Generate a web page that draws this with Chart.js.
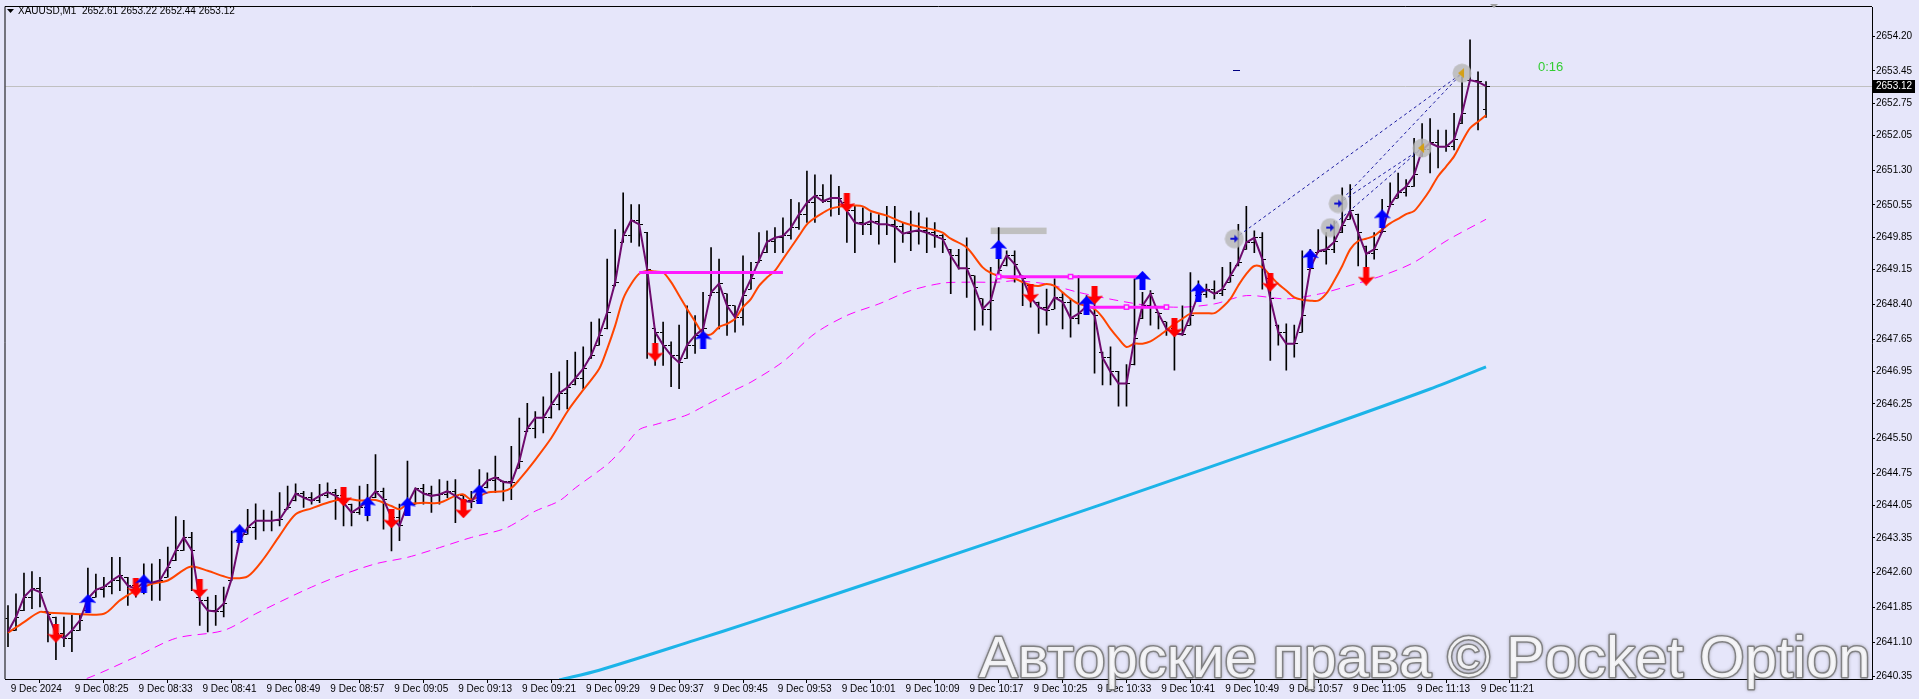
<!DOCTYPE html>
<html>
<head>
<meta charset="utf-8">
<title>XAUUSD,M1</title>
<script src="https://cdn.jsdelivr.net/npm/chart.js@4.4.1/dist/chart.umd.min.js"></script>
<style>
  html, body { margin: 0; padding: 0; background: #e6e6fa; overflow: hidden; }
  #wrap { width: 1919px; height: 699px; position: relative; }
</style>
</head>
<body>
<div id="wrap"><canvas id="priceChart"></canvas></div>
<script>
/* ============================================
   XAUUSD M1 - bars, medias e marcações
   ============================================ */

// Rótulos de tempo (um a cada 8 barras)
const timeTickIdx = [0, 8, 16, 24, 32, 40, 48, 56, 64, 72, 80, 88, 96, 104, 112, 120, 128, 136, 144, 152, 160, 168, 176, 184];
const timeLabels = ['9 Dec 2024', '9 Dec 08:25', '9 Dec 08:33', '9 Dec 08:41', '9 Dec 08:49', '9 Dec 08:57',
    '9 Dec 09:05', '9 Dec 09:13', '9 Dec 09:21', '9 Dec 09:29', '9 Dec 09:37', '9 Dec 09:45', '9 Dec 09:53',
    '9 Dec 10:01', '9 Dec 10:09', '9 Dec 10:17', '9 Dec 10:25', '9 Dec 10:33', '9 Dec 10:41', '9 Dec 10:49',
    '9 Dec 10:57', '9 Dec 11:05', '9 Dec 11:13', '9 Dec 11:21'];

// Escala de preço (como no terminal)
const yTicks = [2654.20, 2653.45, 2652.75, 2652.05, 2651.30, 2650.55, 2649.85, 2649.15, 2648.40, 2647.65,
    2646.95, 2646.25, 2645.50, 2644.75, 2644.05, 2643.35, 2642.60, 2641.85, 2641.10, 2640.35];
const yMin = 2640.30;
const yMax = 2654.83;

// OHLC
const opens = [
    2641.60, 2641.35, 2641.78, 2642.07, 2642.25, 2641.75, 2641.64, 2641.28, 2641.18, 2641.35,
    2641.78, 2642.07, 2642.23, 2642.29, 2642.43, 2642.50, 2642.32, 2642.25, 2642.39, 2642.38,
    2642.50, 2642.86, 2643.08, 2643.36, 2642.07, 2642.00, 2641.78, 2641.76, 2642.43, 2643.29,
    2643.43, 2643.58, 2643.72, 2643.72, 2643.72, 2643.97, 2644.15, 2644.31, 2644.22, 2644.15,
    2644.26, 2644.34, 2644.26, 2644.08, 2643.90, 2644.01, 2644.22, 2644.36, 2643.93, 2643.79,
    2643.86, 2644.08, 2644.42, 2644.31, 2644.26, 2644.29, 2644.36, 2644.26, 2644.15, 2644.15,
    2644.43, 2644.59, 2644.58, 2644.56, 2644.86, 2645.65, 2645.72, 2645.95, 2645.95, 2646.23,
    2646.48, 2646.66, 2646.80, 2647.23, 2647.52, 2647.87, 2648.80, 2649.74, 2649.88, 2650.22,
    2649.96, 2647.87, 2647.80, 2647.52, 2647.30, 2647.23, 2647.52, 2647.73, 2648.59, 2648.66,
    2648.63, 2648.37, 2648.12, 2648.73, 2649.31, 2649.52, 2649.75, 2649.84, 2649.88, 2650.06,
    2650.35, 2650.60, 2650.75, 2650.63, 2650.70, 2650.60, 2650.42, 2650.17, 2650.13, 2650.20,
    2650.13, 2650.13, 2650.08, 2649.93, 2649.97, 2650.00, 2649.95, 2649.88, 2649.59, 2649.45,
    2649.18, 2649.02, 2648.52, 2648.30, 2649.02, 2649.23, 2649.46, 2649.02, 2648.80, 2648.45,
    2648.34, 2648.30, 2648.55, 2648.45, 2648.10, 2648.30, 2648.36, 2647.37, 2647.25, 2646.94,
    2646.69, 2647.09, 2648.09, 2648.37, 2648.23, 2648.02, 2647.87, 2647.77, 2647.95, 2648.59,
    2648.62, 2648.73, 2648.63, 2648.88, 2649.23, 2649.59, 2649.74, 2649.84, 2648.95, 2647.95,
    2647.80, 2647.55, 2647.80, 2649.16, 2649.52, 2649.55, 2649.59, 2649.95, 2650.24, 2650.35,
    2649.66, 2649.49, 2649.95, 2650.52, 2650.70, 2650.81, 2650.95, 2651.60, 2651.74, 2651.89,
    2651.81, 2651.81, 2652.31, 2653.25, 2653.25, 2652.61
];
const highs = [
    2641.89, 2642.14, 2642.59, 2642.62, 2642.50, 2641.75, 2641.64, 2641.64, 2641.68, 2641.68,
    2642.70, 2642.57, 2642.50, 2642.93, 2642.93, 2642.50, 2642.43, 2642.79, 2642.79, 2642.89,
    2643.15, 2643.81, 2643.73, 2643.47, 2642.07, 2642.07, 2642.11, 2642.29, 2643.50, 2643.61,
    2643.97, 2644.09, 2643.95, 2643.93, 2644.33, 2644.47, 2644.52, 2644.36, 2644.33, 2644.51,
    2644.54, 2644.40, 2644.33, 2644.08, 2644.47, 2644.51, 2645.15, 2644.43, 2643.93, 2644.08,
    2645.01, 2644.43, 2644.51, 2644.47, 2644.61, 2644.58, 2644.61, 2644.26, 2644.36, 2644.83,
    2644.76, 2645.12, 2644.58, 2645.33, 2645.94, 2646.26, 2646.08, 2646.40, 2646.91, 2646.94,
    2647.19, 2647.37, 2647.48, 2648.02, 2648.09, 2649.38, 2650.02, 2650.81, 2650.56, 2650.56,
    2649.96, 2647.87, 2648.02, 2647.59, 2647.95, 2648.37, 2648.16, 2648.66, 2649.63, 2649.38,
    2648.63, 2648.37, 2649.45, 2649.31, 2649.95, 2649.99, 2650.06, 2650.27, 2650.67, 2650.60,
    2651.28, 2651.20, 2650.99, 2651.20, 2650.95, 2650.60, 2650.52, 2650.49, 2650.38, 2650.34,
    2650.52, 2650.52, 2650.17, 2650.42, 2650.38, 2650.27, 2650.17, 2649.91, 2649.59, 2649.59,
    2649.84, 2649.02, 2648.52, 2649.20, 2650.06, 2649.56, 2649.56, 2649.02, 2648.80, 2648.45,
    2648.73, 2648.95, 2648.66, 2648.52, 2649.02, 2648.59, 2648.52, 2647.37, 2647.48, 2646.95,
    2647.10, 2648.95, 2648.66, 2648.70, 2648.23, 2648.02, 2647.87, 2648.37, 2649.09, 2648.91,
    2648.84, 2648.91, 2649.20, 2649.31, 2650.13, 2650.52, 2649.99, 2649.95, 2648.95, 2647.95,
    2647.98, 2647.95, 2649.56, 2649.59, 2650.02, 2649.95, 2650.20, 2650.92, 2650.99, 2650.35,
    2649.66, 2649.95, 2650.67, 2651.03, 2651.24, 2651.10, 2651.99, 2652.31, 2652.42, 2652.17,
    2652.17, 2652.53, 2653.32, 2654.12, 2653.43, 2653.22
];
const lows = [
    2641.00, 2641.35, 2641.78, 2641.82, 2641.86, 2641.10, 2640.72, 2641.00, 2640.89, 2641.35,
    2641.78, 2642.07, 2642.07, 2642.14, 2642.21, 2641.89, 2642.07, 2642.14, 2642.00, 2642.00,
    2642.50, 2642.86, 2643.08, 2642.21, 2641.46, 2641.32, 2641.46, 2641.64, 2642.43, 2643.29,
    2643.43, 2643.32, 2643.50, 2643.50, 2643.61, 2643.97, 2644.15, 2644.01, 2644.08, 2644.11,
    2644.22, 2643.75, 2643.61, 2643.61, 2643.86, 2643.72, 2644.22, 2643.54, 2643.07, 2643.29,
    2643.86, 2644.08, 2644.08, 2643.90, 2644.08, 2644.22, 2643.68, 2643.93, 2644.00, 2644.15,
    2644.43, 2644.33, 2644.15, 2644.18, 2644.86, 2645.65, 2645.51, 2645.62, 2645.94, 2646.12,
    2646.14, 2646.66, 2646.58, 2647.23, 2647.52, 2647.87, 2648.80, 2649.74, 2649.74, 2649.66,
    2647.23, 2647.08, 2647.08, 2646.62, 2646.58, 2647.23, 2647.34, 2647.66, 2648.59, 2647.87,
    2647.73, 2647.80, 2647.95, 2648.73, 2649.31, 2649.52, 2649.52, 2649.52, 2649.81, 2650.02,
    2650.17, 2650.17, 2650.60, 2650.31, 2650.34, 2649.74, 2649.52, 2649.91, 2649.91, 2649.70,
    2649.91, 2649.31, 2649.74, 2649.56, 2649.70, 2649.52, 2649.63, 2649.52, 2648.63, 2649.16,
    2648.55, 2647.84, 2647.95, 2647.84, 2649.02, 2649.23, 2648.88, 2648.37, 2648.34, 2647.77,
    2647.95, 2648.30, 2647.87, 2647.69, 2647.98, 2648.30, 2646.91, 2646.66, 2646.66, 2646.20,
    2646.20, 2647.09, 2648.09, 2647.95, 2647.87, 2647.73, 2646.98, 2647.73, 2647.95, 2648.59,
    2648.55, 2648.52, 2648.59, 2648.88, 2649.23, 2649.59, 2649.52, 2648.73, 2647.19, 2647.52,
    2646.98, 2647.26, 2647.80, 2649.16, 2649.52, 2649.27, 2649.52, 2649.95, 2650.24, 2649.23,
    2648.91, 2649.38, 2649.95, 2650.52, 2650.70, 2650.74, 2650.95, 2651.60, 2651.24, 2651.35,
    2651.71, 2651.74, 2652.31, 2653.25, 2652.17, 2652.44
];
const closes = [
    2641.32, 2641.64, 2642.07, 2642.25, 2642.18, 2641.70, 2641.28, 2641.18, 2641.35, 2641.57,
    2642.04, 2642.23, 2642.29, 2642.43, 2642.54, 2642.32, 2642.25, 2642.39, 2642.38, 2642.43,
    2642.72, 2643.08, 2643.36, 2643.08, 2642.00, 2641.78, 2641.76, 2641.93, 2642.47, 2643.30,
    2643.58, 2643.72, 2643.72, 2643.72, 2643.75, 2644.01, 2644.31, 2644.22, 2644.15, 2644.26,
    2644.34, 2644.26, 2644.11, 2643.90, 2644.01, 2644.15, 2644.36, 2644.18, 2643.79, 2643.61,
    2644.08, 2644.42, 2644.31, 2644.26, 2644.29, 2644.36, 2644.26, 2644.15, 2644.13, 2644.40,
    2644.59, 2644.66, 2644.56, 2644.54, 2645.01, 2645.72, 2645.95, 2645.95, 2646.23, 2646.48,
    2646.60, 2646.80, 2647.01, 2647.30, 2647.73, 2648.23, 2648.88, 2649.88, 2650.22, 2650.13,
    2649.16, 2647.80, 2647.52, 2647.30, 2647.14, 2647.52, 2647.73, 2647.87, 2648.66, 2648.85,
    2648.37, 2648.12, 2648.59, 2648.95, 2649.35, 2649.75, 2649.84, 2649.88, 2650.06, 2650.35,
    2650.60, 2650.75, 2650.63, 2650.70, 2650.70, 2650.42, 2650.17, 2650.13, 2650.20, 2650.13,
    2650.13, 2650.08, 2649.93, 2649.97, 2650.00, 2649.95, 2649.88, 2649.81, 2649.45, 2649.18,
    2649.18, 2648.77, 2648.30, 2648.48, 2649.13, 2649.46, 2649.27, 2648.95, 2648.55, 2648.34,
    2648.27, 2648.55, 2648.45, 2648.10, 2648.20, 2648.36, 2648.16, 2647.25, 2646.94, 2646.69,
    2646.69, 2647.66, 2648.37, 2648.63, 2648.20, 2647.87, 2647.77, 2647.75, 2648.16, 2648.62,
    2648.73, 2648.63, 2648.73, 2649.02, 2649.31, 2649.74, 2649.84, 2649.38, 2648.52, 2647.80,
    2647.55, 2647.55, 2648.16, 2649.18, 2649.55, 2649.59, 2649.75, 2650.11, 2650.42, 2649.95,
    2649.49, 2649.59, 2649.98, 2650.55, 2650.81, 2650.95, 2651.20, 2651.74, 2651.89, 2651.81,
    2651.81, 2651.96, 2652.53, 2653.25, 2653.21, 2653.12
];

// Média rápida (laranja)
const orangeIdx = [0, 2, 4, 5, 8, 12, 14, 16, 18, 20, 22, 23, 25, 27, 28, 30, 32, 34, 36, 38, 40, 42, 44, 46,
    48, 49, 50, 52, 54, 56, 57, 58, 60, 62, 63, 64, 66, 68, 70, 72, 74, 75, 76, 77, 78, 79, 80, 81, 82, 83,
    84, 85, 86, 87, 88, 89, 90, 91, 92, 93, 94, 95, 96, 97, 98, 99, 100, 101, 102, 103, 104, 105, 106, 107,
    108, 110, 112, 114, 116, 117, 118, 120, 122, 123, 124, 125, 126, 127, 128, 129, 130, 131, 132, 133, 134,
    135, 136, 137, 138, 139, 140, 141, 142, 143, 144, 145, 146, 147, 148, 149, 150, 151, 152, 153, 154, 155,
    156, 157, 158, 159, 160, 161, 162, 163, 164, 165, 166, 167, 168, 169, 170, 171, 172, 173, 174, 175, 176,
    177, 178, 179, 180, 181, 182, 183, 184, 185];
const orangeVal = [2641.30, 2641.53, 2641.75, 2641.73, 2641.71, 2641.71, 2642.00, 2642.21, 2642.36, 2642.43,
    2642.66, 2642.73, 2642.64, 2642.52, 2642.48, 2642.52, 2642.90, 2643.40, 2643.86, 2643.99, 2644.11, 2644.20,
    2644.16, 2644.17,
    2644.04, 2643.97, 2644.08, 2644.11, 2644.11, 2644.26, 2644.29, 2644.18, 2644.33, 2644.36, 2644.43, 2644.61,
    2645.04, 2645.51, 2646.08, 2646.55, 2647.01, 2647.44, 2647.94, 2648.52, 2648.84, 2649.06, 2649.13, 2649.11,
    2649.09, 2648.88, 2648.59, 2648.30, 2648.03, 2647.77, 2647.75, 2647.91, 2647.98, 2648.09, 2648.34, 2648.52,
    2648.80, 2648.98, 2649.13, 2649.38, 2649.63, 2649.88, 2650.13, 2650.27, 2650.38, 2650.47, 2650.51, 2650.54,
    2650.54, 2650.52, 2650.42, 2650.32, 2650.17, 2650.08, 2650.01, 2649.95, 2649.82, 2649.63, 2649.20, 2649.08,
    2649.02, 2648.98, 2648.96, 2648.88, 2648.82, 2648.80, 2648.84, 2648.80, 2648.66, 2648.52, 2648.41, 2648.37,
    2648.30, 2648.12, 2647.87, 2647.66, 2647.48,
    2647.55, 2647.55, 2647.60, 2647.71, 2647.84, 2647.98, 2648.09, 2648.20, 2648.21, 2648.21, 2648.21, 2648.34,
    2648.52, 2648.81, 2649.06, 2649.23, 2649.20, 2649.02, 2648.84, 2648.70, 2648.55, 2648.50, 2648.48, 2648.48,
    2648.63, 2648.91, 2649.23, 2649.59, 2649.77, 2649.82, 2649.88, 2650.02, 2650.15, 2650.25, 2650.35, 2650.42,
    2650.63, 2650.88, 2651.17, 2651.38, 2651.60, 2651.92, 2652.21, 2652.35, 2652.49];

// Média lenta (rosa tracejada)
const pinkIdx = [8, 10, 16, 21, 27, 31, 37, 41, 46, 50, 54, 58, 62, 64, 66, 69, 71, 75, 77, 79, 81, 83, 85, 87,
    89, 91, 93, 97, 101, 105, 109, 113, 117, 120, 124, 126, 130, 134, 139, 143, 147, 151, 155, 160, 164, 168,
    172, 176, 180, 185];
const pinkVal = [2640.25, 2640.32, 2640.78, 2641.18, 2641.35, 2641.71, 2642.21, 2642.50, 2642.79, 2642.93,
    2643.14, 2643.36, 2643.54, 2643.72, 2643.93, 2644.15, 2644.43, 2644.94, 2645.29, 2645.69, 2645.80, 2645.90,
    2646.01, 2646.19, 2646.37, 2646.55, 2646.72, 2647.16, 2647.77, 2648.16, 2648.41, 2648.70, 2648.86, 2648.88,
    2648.88, 2648.91, 2648.84, 2648.66, 2648.48, 2648.37, 2648.34, 2648.41, 2648.59, 2648.52, 2648.62, 2648.81,
    2649.02, 2649.31, 2649.77, 2650.24];

// Média longa (ciano)
const cyanIdx = [69, 74, 86, 93, 112, 137, 162, 178, 185];
const cyanVal = [2640.28, 2640.49, 2641.14, 2641.53, 2642.62, 2644.08, 2645.58, 2646.57, 2647.05];

// Setas de sinal
const upIdx = [10, 17, 29, 45, 50, 59, 87, 124, 135, 142, 149, 163, 172];
const upPrice = [2641.93, 2642.36, 2643.44, 2644.04, 2644.02, 2644.30, 2647.63, 2649.59, 2648.38, 2648.92,
    2648.66, 2649.39, 2650.25];
const downIdx = [6, 16, 24, 42, 48, 57, 81, 105, 128, 136, 146, 158, 170];
const downPrice = [2641.29, 2642.28, 2642.26, 2644.24, 2643.76, 2643.98, 2647.37, 2650.60, 2648.64, 2648.60,
    2647.89, 2648.88, 2649.01];

// Linhas horizontais (magenta) e âncoras
const levelFrom = [79, 124, 135];
const levelTo = [97, 142, 145];
const levelPrice = [2649.09, 2649.00, 2648.34];
const anchorIdx = [124, 133, 142, 135, 140, 145];
const anchorPrice = [2649.00, 2649.00, 2649.00, 2648.34, 2648.34, 2648.34];

// Retângulo cinza
const boxIdx = [123, 130];
const boxPrice = [2650.06, 2649.92];

// Ordens (entradas / saídas)
const entryIdx = [153.5, 165.5, 166.5];
const entryPrice = [2649.82, 2650.06, 2650.58];
const exitIdx = [177, 182];
const exitPrice = [2651.78, 2653.40];
const linkFrom = [0, 2, 2, 1];
const linkTo = [1, 1, 0, 0];

const bidPrice = 2653.12;
const headerText = 'XAUUSD,M1  2652.61 2653.22 2652.44 2653.12';

// ---------- helpers ----------
const xy = (idx, vals) => idx.map((x, k) => ({ x: x, y: vals[k] }));

function tickImage(left) {
    const c = document.createElement('canvas');
    c.width = 7; c.height = 1;
    const g = c.getContext('2d');
    g.fillStyle = '#000';
    g.fillRect(left ? 0 : 4, 0, 3, 1);
    return c;
}

// seta grossa (estilo Wingdings)
function arrowImage(color, up) {
    const c = document.createElement('canvas');
    c.width = 17; c.height = 19;
    const g = c.getContext('2d');
    g.fillStyle = color;
    g.beginPath();
    const pts = [[8.5, 0], [17, 9], [11.5, 8], [11.5, 19], [5.5, 19], [5.5, 8], [0, 9]];
    pts.forEach((p, k) => {
        const y = up ? p[1] : 19 - p[1];
        if (k === 0) g.moveTo(p[0], y); else g.lineTo(p[0], y);
    });
    g.closePath();
    g.fill();
    return c;
}

function tradeImage(isEntry) {
    const c = document.createElement('canvas');
    c.width = 20; c.height = 20;
    const g = c.getContext('2d');
    g.fillStyle = 'rgba(185,185,185,0.85)';
    g.beginPath(); g.arc(10, 10, 9.5, 0, Math.PI * 2); g.fill();
    if (isEntry) {
        g.fillStyle = '#1010d0';
        g.fillRect(6, 9, 6, 2);
        g.beginPath(); g.moveTo(10, 6); g.lineTo(14, 10); g.lineTo(10, 14); g.closePath(); g.fill();
    } else {
        g.fillStyle = '#d4a017';
        g.beginPath(); g.moveTo(6, 10); g.lineTo(12, 5); g.lineTo(12, 15); g.closePath(); g.fill();
    }
    return c;
}

// ---------- plugins ----------
const backgroundPlugin = {
    id: 'mtBackground',
    beforeDraw(chart) {
        const ctx = chart.ctx;
        ctx.save();
        ctx.fillStyle = '#e6e6fa';
        ctx.fillRect(0, 0, chart.width, chart.height);
        ctx.restore();
    }
};

const underlayPlugin = {
    id: 'mtUnderlay',
    beforeDatasetsDraw(chart) {
        const { ctx, chartArea: a, scales: { x, y } } = chart;
        ctx.save();
        // linha do preço bid
        const py = Math.round(y.getPixelForValue(bidPrice)) + 0.5;
        ctx.strokeStyle = '#c0c0c0';
        ctx.lineWidth = 1;
        ctx.beginPath(); ctx.moveTo(a.left, py); ctx.lineTo(a.right, py); ctx.stroke();
        // retângulo cinza
        const bx0 = x.getPixelForValue(boxIdx[0]);
        const bx1 = x.getPixelForValue(boxIdx[1]);
        const by0 = y.getPixelForValue(boxPrice[0]);
        const by1 = y.getPixelForValue(boxPrice[1]);
        ctx.fillStyle = '#c0c0c0';
        ctx.fillRect(bx0, by0, bx1 - bx0, by1 - by0);
        ctx.restore();
    }
};

const overlayPlugin = {
    id: 'mtOverlay',
    afterDraw(chart) {
        const { ctx, chartArea: a, scales: { y } } = chart;
        ctx.save();
        // moldura
        ctx.strokeStyle = '#000';
        ctx.lineWidth = 1;
        ctx.beginPath();
        ctx.moveTo(a.left - 0.5, a.bottom); ctx.lineTo(a.left - 0.5, a.top - 0.5); ctx.lineTo(a.right, a.top - 0.5);
        ctx.stroke();

        // cabeçalho
        ctx.fillStyle = '#000';
        ctx.beginPath(); ctx.moveTo(7, 9); ctx.lineTo(14, 9); ctx.lineTo(10.5, 13); ctx.closePath(); ctx.fill();
        ctx.font = '10px "Liberation Sans", Arial, sans-serif';
        ctx.textBaseline = 'middle';
        ctx.fillText(headerText, 18, 11);

        // marcador de deslocamento
        ctx.fillStyle = '#a0a0a0';
        ctx.beginPath(); ctx.moveTo(1490, 4); ctx.lineTo(1498, 4); ctx.lineTo(1494, 8); ctx.closePath(); ctx.fill();

        // contador da vela
        ctx.fillStyle = '#32cd32';
        ctx.font = '13px "Liberation Sans", Arial, sans-serif';
        ctx.fillText('0:16', 1538, 67);

        // pequeno traço azul
        ctx.fillStyle = '#000080';
        ctx.fillRect(1233, 70, 7, 1);

        // rótulo do bid no eixo
        const py = Math.round(y.getPixelForValue(bidPrice));
        ctx.fillStyle = '#000';
        ctx.fillRect(a.right + 1, py - 6, 42, 13);
        ctx.fillStyle = '#fff';
        ctx.font = '10px "Liberation Sans", Arial, sans-serif';
        ctx.fillText(bidPrice.toFixed(2), a.right + 4, py + 0.5);

        // marca d'água
        ctx.font = '58px "Liberation Sans", Arial, sans-serif';
        ctx.textBaseline = 'alphabetic';
        ctx.lineJoin = 'round';
        ctx.shadowColor = 'rgba(90,90,90,0.6)';
        ctx.shadowBlur = 3;
        ctx.strokeStyle = 'rgba(120,120,120,0.85)';
        ctx.lineWidth = 3;
        ctx.strokeText('Авторские права © Pocket Option', 979, 677);
        ctx.shadowBlur = 0;
        ctx.fillStyle = 'rgba(250,250,252,0.92)';
        ctx.fillText('Авторские права © Pocket Option', 979, 677);
        ctx.restore();
    }
};

// ---------- gráfico ----------
const barsData = closes.map((c, i) => ({ x: i, y: [lows[i], highs[i]] }));
const openData = opens.map((o, i) => ({ x: i, y: o }));
const closeData = closes.map((c, i) => ({ x: i, y: c }));

const datasets = [
    { type: 'line', label: 'MA long', data: xy(cyanIdx, cyanVal), borderColor: '#1cb4e8', borderWidth: 3,
      pointRadius: 0, tension: 0.3, order: 20 },
    { type: 'line', label: 'MA slow', data: xy(pinkIdx, pinkVal), borderColor: '#ff00ff', borderWidth: 1,
      borderDash: [9, 6], pointRadius: 0, tension: 0.3, order: 19 },
    { type: 'bar', label: 'HL', data: barsData, backgroundColor: '#000', borderWidth: 0, barThickness: 1,
      grouped: false, order: 18 },
    { type: 'scatter', label: 'Open', data: openData, pointStyle: tickImage(true), order: 17 },
    { type: 'scatter', label: 'Close', data: closeData, pointStyle: tickImage(false), order: 17 },
    { type: 'line', label: 'MA fast', data: xy(orangeIdx, orangeVal), borderColor: '#ff4500', borderWidth: 2,
      pointRadius: 0, tension: 0.3, order: 12 },
    { type: 'line', label: 'Price', data: closeData, borderColor: '#6e0b6e', borderWidth: 2,
      pointRadius: 0, tension: 0, order: 11 }
];

levelPrice.forEach((p, k) => {
    datasets.push({ type: 'line', label: 'Level ' + k,
        data: [{ x: levelFrom[k], y: p }, { x: levelTo[k], y: p }],
        borderColor: '#ff1aff', borderWidth: 3, pointRadius: 0, order: 8 });
});
datasets.push({ type: 'scatter', label: 'Anchors', data: xy(anchorIdx, anchorPrice), pointStyle: 'rect',
    pointRadius: 3, borderColor: '#ff1aff', borderWidth: 1.5, backgroundColor: '#e6e6fa', order: 7 });

datasets.push({ type: 'scatter', label: 'Up', data: xy(upIdx, upPrice), pointStyle: arrowImage('#0000ff', true), order: 5 });
datasets.push({ type: 'scatter', label: 'Down', data: xy(downIdx, downPrice), pointStyle: arrowImage('#ff0000', false), order: 5 });

linkFrom.forEach((f, k) => {
    const t = linkTo[k];
    datasets.push({ type: 'line', label: 'Link ' + k,
        data: [{ x: entryIdx[f], y: entryPrice[f] }, { x: exitIdx[t], y: exitPrice[t] }],
        borderColor: '#1a1aa0', borderWidth: 1, borderDash: [3, 3], pointRadius: 0, order: 4 });
});
datasets.push({ type: 'scatter', label: 'Entries', data: xy(entryIdx, entryPrice), pointStyle: tradeImage(true), order: 2 });
datasets.push({ type: 'scatter', label: 'Exits', data: xy(exitIdx, exitPrice), pointStyle: tradeImage(false), order: 2 });

const axisFont = { family: '"Liberation Sans", Arial, sans-serif', size: 10 };

new Chart(document.getElementById('priceChart'), {
    type: 'line',
    data: { datasets: datasets },
    options: {
        responsive: true,
        maintainAspectRatio: false,
        animation: false,
        events: [],
        layout: { padding: { top: 3, left: 3, right: 0, bottom: 0 } },
        plugins: { legend: { display: false }, tooltip: { enabled: false } },
        scales: {
            x: {
                type: 'linear',
                min: -0.3125,
                max: 233.3125,
                offset: false,
                afterFit(scale) { scale.height = 20; },
                afterBuildTicks(scale) { scale.ticks = timeTickIdx.map(v => ({ value: v })); },
                grid: { drawOnChartArea: false, drawTicks: true, tickLength: 4, color: '#000' },
                border: { display: true, color: '#000' },
                ticks: {
                    autoSkip: false, maxRotation: 0, align: 'start', padding: 0,
                    color: '#000', font: axisFont,
                    callback: (v, i) => ' ' + timeLabels[i]
                }
            },
            y: {
                type: 'linear',
                position: 'right',
                min: yMin,
                max: yMax,
                afterFit(scale) { scale.width = 47; },
                afterBuildTicks(scale) { scale.ticks = yTicks.map(v => ({ value: v })); },
                grid: { drawOnChartArea: false, drawTicks: true, tickLength: 3, color: '#000' },
                border: { display: true, color: '#000' },
                ticks: { padding: 1, color: '#000', font: axisFont, callback: v => v.toFixed(2) }
            }
        }
    },
    plugins: [backgroundPlugin, underlayPlugin, overlayPlugin]
});
</script>
</body>
</html>
